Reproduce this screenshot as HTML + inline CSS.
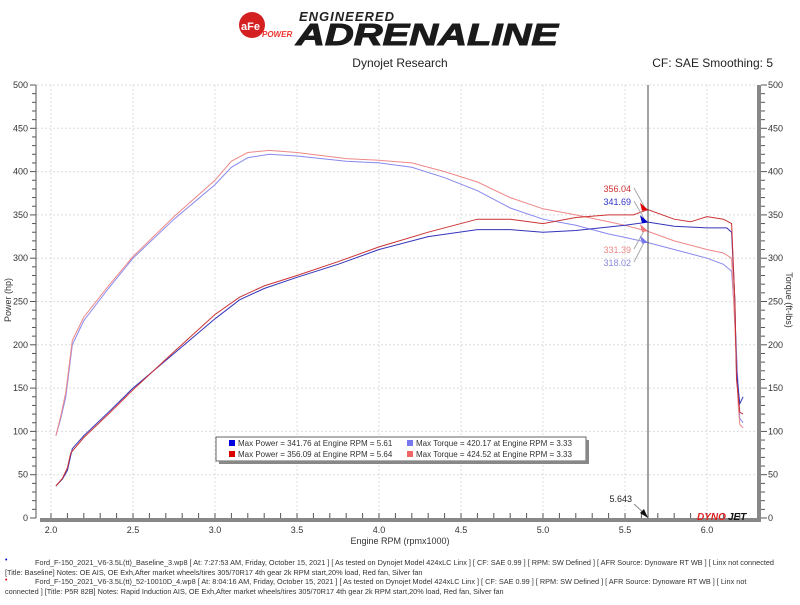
<!DOCTYPE html>
<html><head><meta charset="utf-8"><style>
body{margin:0;background:#fff;width:800px;height:600px;overflow:hidden;font-family:"Liberation Sans",sans-serif}
svg text{font-family:"Liberation Sans",sans-serif}
</style></head><body>
<svg id="s" width="800" height="600" xmlns="http://www.w3.org/2000/svg">
<circle cx="252" cy="25" r="13" fill="#d42020"/>
<text x="241" y="30" font-size="11" font-weight="bold" fill="#fff">aFe</text>
<text x="262" y="37" font-size="8" font-style="italic" font-weight="bold" fill="#e33">POWER</text>
<text x="299" y="21" font-size="13" font-style="italic" font-weight="bold" fill="#222" letter-spacing="1">ENGINEERED</text>
<text x="296" y="45" font-size="31" font-style="italic" font-weight="bold" fill="#1a1a1a" textLength="262" lengthAdjust="spacingAndGlyphs" stroke="#1a1a1a" stroke-width="1">ADRENALINE</text>
<text x="400" y="67" font-size="12" text-anchor="middle" fill="#222">Dynojet Research</text>
<text x="773" y="67" font-size="12" text-anchor="end" fill="#222">CF: SAE Smoothing: 5</text>
<g id="g"></g>
<text x="400" y="544" font-size="9" text-anchor="middle" fill="#333">Engine RPM (rpmx1000)</text>
<text transform="translate(11,300) rotate(-90)" font-size="9" text-anchor="middle" fill="#333">Power (hp)</text>
<text transform="translate(786,300) rotate(90)" font-size="9" text-anchor="middle" fill="#333">Torque (ft-lbs)</text>
<rect x="216" y="437" width="370" height="24" fill="#fff" stroke="#666"/>
<rect x="219" y="461" width="370" height="3" fill="#888"/><rect x="586" y="440" width="3" height="24" fill="#888"/>
<rect x="229" y="440" width="6" height="6" fill="#0000dd"/><text x="238" y="446" font-size="8" fill="#333">Max Power = 341.76 at Engine RPM = 5.61</text>
<rect x="229" y="451" width="6" height="6" fill="#dd0000"/><text x="238" y="457" font-size="8" fill="#333">Max Power = 356.09 at Engine RPM = 5.64</text>
<rect x="407" y="440" width="6" height="6" fill="#7777ee"/><text x="416" y="446" font-size="8" fill="#333">Max Torque = 420.17 at Engine RPM = 3.33</text>
<rect x="407" y="451" width="6" height="6" fill="#ee6666"/><text x="416" y="457" font-size="8" fill="#333">Max Torque = 424.52 at Engine RPM = 3.33</text>
<text x="631" y="192" font-size="9" text-anchor="end" fill="#c33">356.04</text>
<text x="631" y="205" font-size="9" text-anchor="end" fill="#33c">341.69</text>
<text x="631" y="253" font-size="9" text-anchor="end" fill="#e88">331.39</text>
<text x="631" y="266" font-size="9" text-anchor="end" fill="#88d">318.02</text>
<text x="632" y="502" font-size="9" text-anchor="end" fill="#222">5.643</text>
<text x="697" y="520" font-size="10" font-style="italic" font-weight="bold" fill="#d22">DYNO</text><text x="728" y="520" font-size="10" font-style="italic" font-weight="bold" fill="#111">JET</text>
<text x="5" y="562" font-size="7" fill="#00c">•</text>
<text x="35" y="565" font-size="7.3" fill="#333">Ford_F-150_2021_V6-3.5L(tt)_Baseline_3.wp8 [ At: 7:27:53 AM, Friday, October 15, 2021 ] [ As tested on Dynojet Model 424xLC Linx ] [ CF: SAE 0.99 ] [ RPM: SW Defined ] [ AFR Source: Dynoware RT WB ] [ Linx not connected</text>
<text x="5" y="575" font-size="7.3" fill="#333">[Title: Baseline]  Notes: OE AIS, OE Exh,After market wheels/tires 305/70R17 4th gear 2k RPM start,20% load, Red fan, Silver fan</text>
<text x="5" y="582" font-size="7" fill="#c00">•</text>
<text x="35" y="584" font-size="7.3" fill="#333">Ford_F-150_2021_V6-3.5L(tt)_52-10010D_4.wp8 [ At: 8:04:16 AM, Friday, October 15, 2021 ] [ As tested on Dynojet Model 424xLC Linx ] [ CF: SAE 0.99 ] [ RPM: SW Defined ] [ AFR Source: Dynoware RT WB ] [ Linx not</text>
<text x="5" y="594" font-size="7.3" fill="#333">connected ] [Title: P5R 82B]  Notes: Rapid Induction AIS, OE Exh,After market wheels/tires 305/70R17 4th gear 2k RPM start,20% load, Red fan, Silver fan</text>
</svg>
<script>
var g=document.getElementById('g'),h='';
function X(r){return 51+(r-2)*164}function Y(v){return 518-v*0.866}
for(var v=0;v<=500;v+=50){var y=Y(v);if(v>0)h+='<line x1="37" x2="757" y1="'+y+'" y2="'+y+'" stroke="#ddd" stroke-dasharray="2,2"/>';
h+='<text x="28" y="'+(y+3)+'" font-size="9" text-anchor="end" fill="#333">'+v+'</text><text x="768" y="'+(y+3)+'" font-size="9" fill="#333">'+v+'</text>';}
for(var v=0;v<=500;v+=10){var y=Y(v);var l=v%50?4:6;h+='<line x1="'+(36-l)+'" x2="36" y1="'+y+'" y2="'+y+'" stroke="#555"/><line x1="761" x2="'+(761+l)+'" y1="'+y+'" y2="'+y+'" stroke="#555"/>';}
for(var r=2;r<=6.01;r+=0.5){var x=X(r);h+='<line x1="'+x+'" x2="'+x+'" y1="85" y2="518" stroke="#ddd" stroke-dasharray="2,2"/><text x="'+x+'" y="533" font-size="9" text-anchor="middle" fill="#333">'+r.toFixed(1)+'</text>';}
for(var r=2;r<=6.25;r+=0.1){var x=X(r);h+='<line x1="'+x+'" x2="'+x+'" y1="513" y2="518" stroke="#555"/>';}
h+='<line x1="36" x2="36" y1="85" y2="518" stroke="#555"/><rect x="40" y="518" width="721" height="4" fill="#888"/><rect x="757" y="85" width="4" height="437" fill="#888"/>';
function P(d,c){var s=d.map(function(p){return X(p[0]).toFixed(1)+','+Y(p[1]).toFixed(1)}).join(' ');h+='<polyline points="'+s+'" fill="none" stroke="'+c+'" stroke-width="1"/>';}
P([[2.03,95],[2.06,115],[2.09,140],[2.13,200],[2.2,228],[2.35,265],[2.5,300],[2.75,345],[3.0,385],[3.1,405],[3.2,416],[3.33,420],[3.5,418],[3.8,412],[4.0,410],[4.2,405],[4.4,393],[4.6,378],[4.8,358],[5.0,345],[5.2,338],[5.4,328],[5.5,324],[5.64,318],[5.8,310],[6.0,300],[6.1,293],[6.15,285],[6.17,230],[6.19,150],[6.2,115],[6.22,110]],'#8888ee');
P([[2.03,95],[2.06,118],[2.09,145],[2.13,205],[2.2,232],[2.35,268],[2.5,302],[2.75,348],[3.0,390],[3.1,412],[3.2,422],[3.33,424.5],[3.5,422],[3.8,415],[4.0,413],[4.2,410],[4.4,400],[4.6,388],[4.8,370],[5.0,357],[5.2,350],[5.4,342],[5.5,338],[5.64,331],[5.8,320],[6.0,310],[6.1,306],[6.15,300],[6.17,220],[6.19,130],[6.2,108],[6.22,104]],'#ee8888');
P([[2.03,37],[2.07,45],[2.1,55],[2.13,80],[2.2,95],[2.35,122],[2.5,150],[2.75,190],[3.0,230],[3.15,252],[3.3,265],[3.5,278],[3.75,293],[4.0,310],[4.3,325],[4.6,333],[4.8,333],[5.0,330],[5.2,332],[5.4,336],[5.5,338],[5.64,341.7],[5.8,337],[6.0,335],[6.12,335],[6.15,330],[6.17,250],[6.18,170],[6.2,132],[6.22,140]],'#3333bb');
P([[2.03,37],[2.07,46],[2.1,58],[2.12,75],[2.2,93],[2.35,120],[2.5,148],[2.75,192],[3.0,235],[3.15,255],[3.3,268],[3.5,280],[3.75,296],[4.0,313],[4.3,330],[4.6,345],[4.8,345],[5.0,340],[5.2,347],[5.4,350],[5.55,350],[5.64,356],[5.8,345],[5.9,342],[6.0,348],[6.1,345],[6.15,340],[6.17,250],[6.18,160],[6.2,122],[6.22,120]],'#cc3333');
h+='<line x1="648" x2="648" y1="85" y2="518" stroke="#444"/>';
[[192,'#d00',356],[205,'#00c',341.7],[253,'#e77',331.4],[266,'#77e',318]].forEach(function(a){var y=Y(a[2]);h+='<line x1="634" y1="'+(a[0]-4)+'" x2="645" y2="'+(y-2)+'" stroke="#aaa"/><polygon points="648,'+y+' 640,'+(y-7)+' 642,'+(y+1)+'" fill="'+a[1]+'"/>';});
h+='<line x1="634" y1="504" x2="645" y2="514" stroke="#888"/><polygon points="648,518 640,513 644,509" fill="#111"/>';
g.innerHTML=h;
</script>
</body></html>
